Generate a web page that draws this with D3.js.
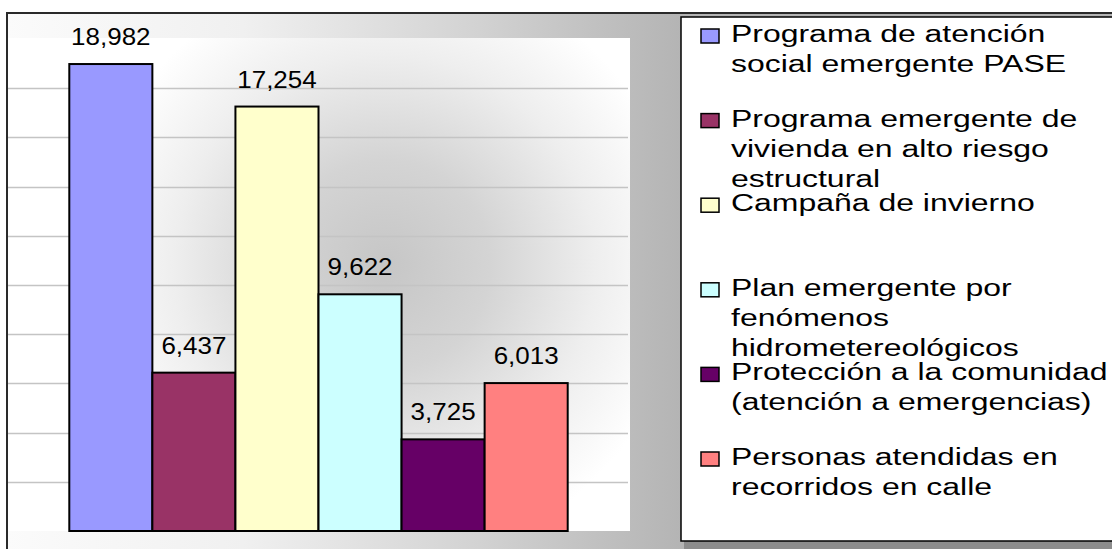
<!DOCTYPE html>
<html>
<head>
<meta charset="utf-8">
<script src="https://cdn.jsdelivr.net/npm/d3@7/dist/d3.min.js"></script>
<style>
  html, body { margin: 0; padding: 0; background: #ffffff; }
  svg { display: block; }
  text { font-family: "Liberation Sans", Arial, sans-serif; fill: #000; }
</style>
</head>
<body>
<svg id="chart" width="1112" height="549"></svg>
<script>
// ---- data ----
const categories = [
  "Programa de atención\nsocial emergente PASE",
  "Programa emergente de\nvivienda en alto riesgo\nestructural",
  "Campaña de invierno",
  "Plan emergente por\nfenómenos\nhidrometereológicos",
  "Protección a la comunidad\n(atención a emergencias)",
  "Personas atendidas en\nrecorridos en calle"
];
const values = [18982, 6437, 17254, 9622, 3725, 6013];
const valueLabels = ["18,982", "6,437", "17,254", "9,622", "3,725", "6,013"];
const yDomain = [0, 20000];

// ---- styles ----
const palette = ["#9999FF", "#993366", "#FFFFCC", "#CCFFFF", "#660066", "#FF8080"];

const svg = d3.select("#chart");
const defs = svg.append("defs");

// outer background gradient (left white -> right gray)
const lg = defs.append("linearGradient").attr("id", "outerGrad")
  .attr("gradientUnits", "userSpaceOnUse")
  .attr("x1", 7).attr("y1", 0).attr("x2", 682).attr("y2", 0);
[[0, "#fbfbfb"], [0.35, "#f0f0f0"], [0.7, "#d2d2d2"], [1, "#b4b4b4"]]
  .forEach(([o, c]) => lg.append("stop").attr("offset", o).attr("stop-color", c));

// plot area radial gradient
const rg = defs.append("radialGradient").attr("id", "plotGrad")
  .attr("gradientUnits", "userSpaceOnUse")
  .attr("cx", 385).attr("cy", 265).attr("r", 300)
  .attr("fx", 385).attr("fy", 265);
[[0, "#c6c6c6"], [0.35, "#d4d4d4"], [0.7, "#eeeeee"], [1, "#ffffff"]]
  .forEach(([o, c]) => rg.append("stop").attr("offset", o).attr("stop-color", c));

// outer chart area
svg.append("rect").attr("x", 7).attr("y", 13).attr("width", 1200).attr("height", 600)
  .attr("fill", "url(#outerGrad)").attr("stroke", "#2a2a2a").attr("stroke-width", 2);

// plot area
const plot = { left: 7, right: 630, top: 38, bottom: 531 };
svg.append("rect").attr("x", plot.left + 1).attr("y", plot.top)
  .attr("width", plot.right - plot.left - 1).attr("height", plot.bottom - plot.top)
  .attr("fill", "url(#plotGrad)");

// scales
const x = d3.scaleBand().domain(d3.range(values.length))
  .range([plot.left, plot.right]).paddingInner(0).paddingOuter(0.75);
const y = d3.scaleLinear().domain(yDomain).range([plot.bottom, 39]);

// gridlines
const ticks = y.ticks(10).filter(t => t > yDomain[0] && t < yDomain[1]);
svg.append("g").selectAll("line").data(ticks).join("line")
  .attr("x1", plot.left + 1).attr("x2", plot.right - 2)
  .attr("y1", d => Math.round(y(d)) + 0.5).attr("y2", d => Math.round(y(d)) + 0.5)
  .attr("stroke", "#c4c4c4").attr("stroke-width", 1.5);

// bars
svg.append("g").selectAll("rect").data(values).join("rect")
  .attr("x", (d, i) => x(i)).attr("width", x.bandwidth())
  .attr("y", d => y(d)).attr("height", d => y(0) - y(d))
  .attr("fill", (d, i) => palette[i])
  .attr("stroke", "#000").attr("stroke-width", 2);

// value labels
svg.append("g").selectAll("text").data(values).join("text")
  .attr("transform", (d, i) => `translate(${x(i) + x.bandwidth() / 2},${y(d) - 19}) scale(1.13,1)`)
  .attr("text-anchor", "middle")
  .attr("font-size", 23)
  .text((d, i) => valueLabels[i]);

// legend
const lgX = 681, lgY = 17, lgBottom = 541;
svg.append("rect").attr("x", lgX + 3).attr("y", lgBottom).attr("width", 500).attr("height", 12)
  .attr("fill", "#8c8c8c");
svg.append("rect").attr("x", lgX).attr("y", lgY).attr("width", 500).attr("height", lgBottom - lgY)
  .attr("fill", "#ffffff").attr("stroke", "#000").attr("stroke-width", 1.5);

const legendStep = 84.6, firstBase = 42, lineH = 30;
const items = svg.append("g").selectAll("g").data(categories).join("g")
  .attr("transform", (d, i) => `translate(0,${firstBase + i * legendStep})`);
items.append("rect").attr("x", 701).attr("y", -13).attr("width", 18).attr("height", 14)
  .attr("fill", (d, i) => palette[i]).attr("stroke", "#000").attr("stroke-width", 1.5);
items.each(function(d) {
  const g = d3.select(this);
  d.split("\n").forEach((line, k) => {
    g.append("text")
      .attr("transform", `translate(731,${k * lineH}) scale(1.39,1)`)
      .attr("font-size", 23)
      .text(line);
  });
});
</script>
</body>
</html>
